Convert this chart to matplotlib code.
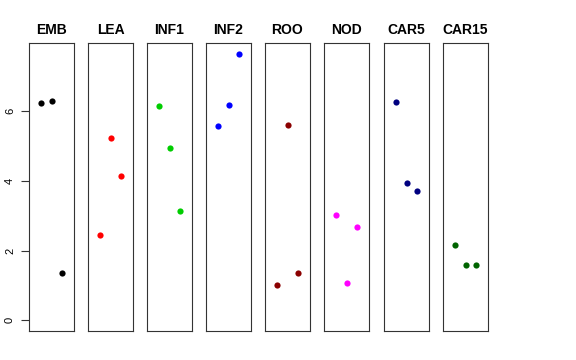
import matplotlib
matplotlib.use("Agg")
import matplotlib.pyplot as plt

plt.rcParams['font.family'] = ['Liberation Sans', 'DejaVu Sans']

groups = ["EMB", "LEA", "INF1", "INF2", "ROO", "NOD", "CAR5", "CAR15"]
colors = ["black", "red", "#00CD00", "blue", "#8B0000", "magenta", "#000080", "#006400"]

emb = [6.23, 6.30, 1.36]
lea = [2.44, 5.24, 4.13]
inf1 = [6.14, 4.93, 3.13]
inf2 = [5.58, 6.18, 7.65]
roo = [1.01, 5.60, 1.36]
nod = [3.02, 1.07, 2.68]
car5 = [6.25, 3.94, 3.72]
car15 = [2.15, 1.60, 1.60]
values = [emb, lea, inf1, inf2, roo, nod, car5, car15]

positions = [1, 2, 3]
y_ticks = [0, 2, 4, 6]

W, H = 576, 360
lefts = [29, 88, 147, 206, 265, 324, 384, 443]
pw, top, bottom = 45, 43, 331
ymax = max(max(v) for v in values)
ypad = 0.04 * ymax

fig = plt.figure(figsize=(W / 100, H / 100), dpi=100)
for i, (g, c, v) in enumerate(zip(groups, colors, values)):
    ax = fig.add_axes([lefts[i] / W, 1 - bottom / H, pw / W, (bottom - top) / H])
    ax.scatter(positions, v, color=c, s=20, zorder=3, linewidths=0)
    ax.set_xlim(-0.16, 4.16)
    ax.set_ylim(-ypad, ymax + ypad)
    ax.set_xticks([])
    for s in ax.spines.values():
        s.set_linewidth(0.8)
        s.set_color("#333333")
    ax.set_title(g, fontsize=10, fontweight="bold", pad=6.5)
    if i == 0:
        ax.set_yticks(y_ticks)
        ax.set_yticklabels([str(t) for t in y_ticks], rotation=90, va="center", fontsize=8)
        ax.tick_params(axis="y", length=6, width=0.8, color="#333333", pad=4)
    else:
        ax.set_yticks([])

fig.savefig("out.png", dpi=100)
